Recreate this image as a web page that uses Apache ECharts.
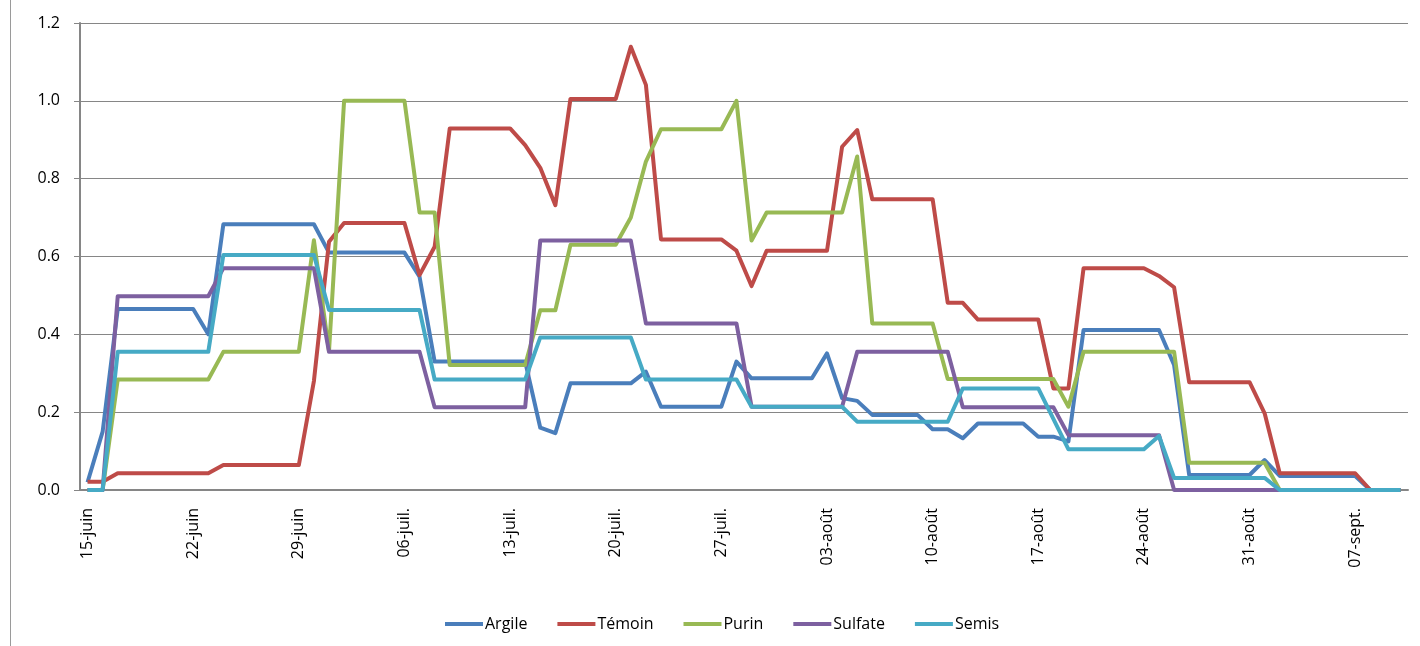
<!DOCTYPE html>
<html>
<head>
<meta charset="utf-8">
<script src="https://cdn.jsdelivr.net/npm/echarts@6/dist/echarts.min.js"></script>
<style>
  html, body { margin: 0; padding: 0; background: #fff; }
  #chart { width: 1420px; height: 646px; }
</style>
</head>
<body>
<div id="chart"></div>
<script>
// dates, one per day
var dates = [
  '15-juin','16-juin','17-juin','18-juin','19-juin','20-juin','21-juin','22-juin','23-juin','24-juin',
  '25-juin','26-juin','27-juin','28-juin','29-juin','30-juin',
  '01-juil.','02-juil.','03-juil.','04-juil.','05-juil.','06-juil.','07-juil.','08-juil.','09-juil.','10-juil.',
  '11-juil.','12-juil.','13-juil.','14-juil.','15-juil.','16-juil.','17-juil.','18-juil.','19-juil.','20-juil.',
  '21-juil.','22-juil.','23-juil.','24-juil.','25-juil.','26-juil.','27-juil.','28-juil.','29-juil.','30-juil.','31-juil.',
  '01-août','02-août','03-août','04-août','05-août','06-août','07-août','08-août','09-août','10-août',
  '11-août','12-août','13-août','14-août','15-août','16-août','17-août','18-août','19-août','20-août',
  '21-août','22-août','23-août','24-août','25-août','26-août','27-août','28-août','29-août','30-août','31-août',
  '01-sept.','02-sept.','03-sept.','04-sept.','05-sept.','06-sept.','07-sept.','08-sept.','09-sept.','10-sept.'
];

var argile = [
  0.02, 0.15, 0.465, 0.465, 0.465, 0.465, 0.465, 0.465, 0.40,
  0.683, 0.683, 0.683, 0.683, 0.683, 0.683, 0.683,
  0.61, 0.61, 0.61, 0.61, 0.61, 0.61, 0.548,
  0.33, 0.33, 0.33, 0.33, 0.33, 0.33, 0.33, 0.16, 0.146,
  0.274, 0.274, 0.274, 0.274, 0.274, 0.304,
  0.214, 0.214, 0.214, 0.214, 0.214, 0.33,
  0.287, 0.287, 0.287, 0.287, 0.287, 0.351, 0.236, 0.229,
  0.193, 0.193, 0.193, 0.193, 0.156, 0.156, 0.133,
  0.171, 0.171, 0.171, 0.171, 0.137, 0.137, 0.125,
  0.411, 0.411, 0.411, 0.411, 0.411, 0.411, 0.321,
  0.0385, 0.0385, 0.0385, 0.0385, 0.0385, 0.077,
  0.036, 0.036, 0.036, 0.036, 0.036, 0.036, 0, 0, 0
];

var temoin = [
  0.021, 0.021, 0.043, 0.043, 0.043, 0.043, 0.043, 0.043, 0.043,
  0.064, 0.064, 0.064, 0.064, 0.064, 0.064, 0.28, 0.638,
  0.686, 0.686, 0.686, 0.686, 0.686, 0.552, 0.625,
  0.929, 0.929, 0.929, 0.929, 0.929, 0.886, 0.828, 0.732,
  1.005, 1.005, 1.005, 1.005, 1.139, 1.041,
  0.644, 0.644, 0.644, 0.644, 0.644, 0.615, 0.524,
  0.615, 0.615, 0.615, 0.615, 0.615, 0.882, 0.925,
  0.747, 0.747, 0.747, 0.747, 0.747, 0.481, 0.481,
  0.438, 0.438, 0.438, 0.438, 0.438, 0.261, 0.261,
  0.570, 0.570, 0.570, 0.570, 0.570, 0.55, 0.521,
  0.277, 0.277, 0.277, 0.277, 0.277, 0.197,
  0.043, 0.043, 0.043, 0.043, 0.043, 0.043, 0, 0, 0
];

var purin = [
  0, 0, 0.284, 0.284, 0.284, 0.284, 0.284, 0.284, 0.284,
  0.355, 0.355, 0.355, 0.355, 0.355, 0.355, 0.642, 0.357,
  1.0, 1.0, 1.0, 1.0, 1.0, 0.713, 0.713,
  0.321, 0.321, 0.321, 0.321, 0.321, 0.321, 0.462, 0.462,
  0.63, 0.63, 0.63, 0.63, 0.70, 0.844,
  0.927, 0.927, 0.927, 0.927, 0.927, 1.0, 0.641,
  0.713, 0.713, 0.713, 0.713, 0.713, 0.713, 0.857,
  0.428, 0.428, 0.428, 0.428, 0.428,
  0.285, 0.285, 0.285, 0.285, 0.285, 0.285, 0.285, 0.285, 0.214,
  0.355, 0.355, 0.355, 0.355, 0.355, 0.355, 0.355,
  0.07, 0.07, 0.07, 0.07, 0.07, 0.07,
  0, 0, 0, 0, 0, 0, 0, 0, 0
];

var sulfate = [
  0, 0, 0.498, 0.498, 0.498, 0.498, 0.498, 0.498, 0.498,
  0.57, 0.57, 0.57, 0.57, 0.57, 0.57, 0.57,
  0.355, 0.355, 0.355, 0.355, 0.355, 0.355, 0.355,
  0.2125, 0.2125, 0.2125, 0.2125, 0.2125, 0.2125, 0.2125,
  0.641, 0.641, 0.641, 0.641, 0.641, 0.641, 0.641,
  0.428, 0.428, 0.428, 0.428, 0.428, 0.428, 0.428,
  0.214, 0.214, 0.214, 0.214, 0.214, 0.214, 0.214,
  0.355, 0.355, 0.355, 0.355, 0.355, 0.355, 0.355,
  0.2125, 0.2125, 0.2125, 0.2125, 0.2125, 0.2125, 0.2125,
  0.141, 0.141, 0.141, 0.141, 0.141, 0.141, 0.141,
  0, 0, 0, 0, 0, 0, 0, 0, 0, 0, 0, 0, 0, 0, 0, 0
];

var semis = [
  0, 0, 0.355, 0.355, 0.355, 0.355, 0.355, 0.355, 0.355,
  0.604, 0.604, 0.604, 0.604, 0.604, 0.604, 0.604,
  0.4625, 0.4625, 0.4625, 0.4625, 0.4625, 0.4625, 0.4625,
  0.284, 0.284, 0.284, 0.284, 0.284, 0.284, 0.284,
  0.392, 0.392, 0.392, 0.392, 0.392, 0.392, 0.392,
  0.284, 0.284, 0.284, 0.284, 0.284, 0.284, 0.284,
  0.214, 0.214, 0.214, 0.214, 0.214, 0.214, 0.214,
  0.1755, 0.1755, 0.1755, 0.1755, 0.1755, 0.1755, 0.1755,
  0.261, 0.261, 0.261, 0.261, 0.261, 0.261, 0.183,
  0.1045, 0.1045, 0.1045, 0.1045, 0.1045, 0.1045, 0.139,
  0.031, 0.031, 0.031, 0.031, 0.031, 0.031, 0.031,
  0, 0, 0, 0, 0, 0, 0, 0, 0
];

var seriesNames = ['Argile', 'Témoin', 'Purin', 'Sulfate', 'Semis'];
var seriesColors = ['#4a7ebb', '#be4b48', '#98b954', '#7d60a0', '#46aac5'];
var seriesData = [argile, temoin, purin, sulfate, semis];

var myChart = echarts.init(document.getElementById('chart'));

var series = seriesNames.map(function (name, k) {
  return {
    name: name,
    type: 'line',
    data: seriesData[k],
    symbol: 'none',
    color: seriesColors[k],
    lineStyle: { width: 4, color: seriesColors[k], join: 'round' },
    animation: false
  };
});

var option = {
  backgroundColor: '#fff',
  animation: false,
  grid: { left: 80, right: 12, top: 23, bottom: 156 },
  graphic: [{
    type: 'line',
    shape: { x1: 10.5, y1: 0, x2: 10.5, y2: 646 },
    style: { stroke: '#9a9a9a', lineWidth: 1 }
  }],
  legend: {
    left: 440,
    top: 611,
    itemWidth: 38,
    itemHeight: 4,
    itemGap: 30,
    icon: 'rect',
    textStyle: { fontFamily: 'Open Sans', fontSize: 16, color: '#000', padding: [0, 0, 0, -3] },
    data: seriesNames
  },
  xAxis: {
    type: 'category',
    data: dates,
    boundaryGap: true,
    axisLine: { lineStyle: { color: '#868686', width: 2 } },
    axisTick: { interval: 6, length: 6, lineStyle: { color: '#868686' } },
    axisLabel: {
      interval: 6,
      rotate: 90,
      margin: 18,
      fontFamily: 'Open Sans',
      fontSize: 16,
      color: '#000'
    },
    splitLine: { show: false }
  },
  yAxis: {
    type: 'value',
    min: 0,
    max: 1.2,
    interval: 0.2,
    axisLine: { show: true, lineStyle: { color: '#868686', width: 2 } },
    axisTick: { show: true, inside: false, length: 6, lineStyle: { color: '#868686' } },
    axisLabel: {
      margin: 20,
      fontFamily: 'Open Sans',
      fontSize: 16,
      color: '#000',
      formatter: function (v) { return v.toFixed(1); }
    },
    splitLine: { show: true, lineStyle: { color: '#868686', width: 1 } }
  },
  series: series
};

myChart.setOption(option);
window.onresize = function () {
  myChart.resize();
};
</script>
</body>
</html>
